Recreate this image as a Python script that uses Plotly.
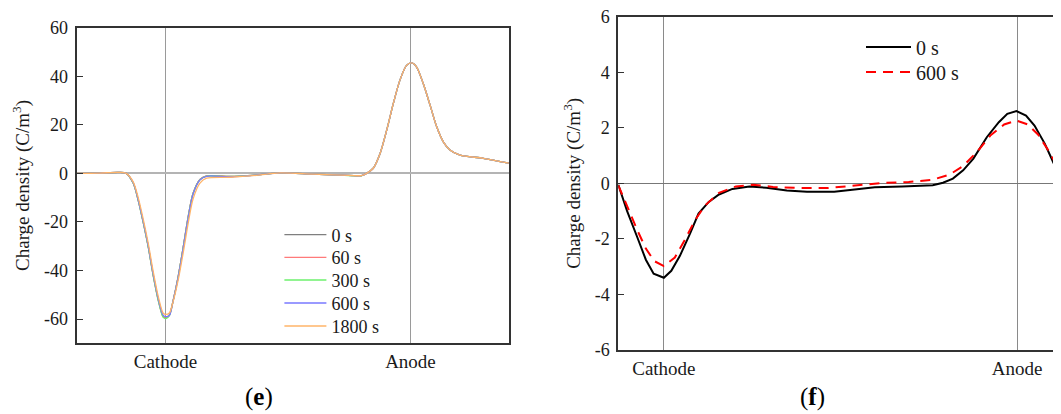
import plotly.graph_objects as go

# ---------------- data ----------------
# Panel (e): position (cathode = 0, anode = 100), charge density C/m^3
pos_e = [-36.2, -27, -19, -16, -13.1, -11.1, -9.1, -7.0, -5.0, -2.9, -0.9, 0.2, 1.6, 3.2, 5.2,
         7.3, 9.3, 11.3, 14.1, 16.8, 26.3, 37.2, 46.7, 60, 72, 80, 82.1, 84.8, 87.6, 90.3,
         93.0, 95.7, 98.4, 100.5, 102.5, 105.2, 108.0, 110.7, 113.4, 116.1, 120.2, 129.7, 140.2]
rho_0s = [0, 0.1, 0.4, 0.0, -4.1, -11.0, -19.9, -30.2, -41.8, -52.1, -58.9, -59.4, -58.3, -52.1, -42.5,
          -30.2, -17.8, -8.2, -2.5, -1.0, -1.3, -0.7, 0.2, -0.3, -0.7, -0.9, 0.0, 2.1, 8.2, 17.8,
          28.8, 38.4, 44.5, 45.5, 43.8, 37.0, 28.1, 19.2, 13.0, 9.6, 7.5, 6.2, 4.2]
rho_60s = [0, 0.1, 0.4, 0.0, -4.1, -11.1, -20.0, -30.3, -41.9, -52.3, -59.1, -59.6, -58.4, -52.2, -42.5,
           -30.2, -17.8, -8.2, -2.5, -1.0, -1.3, -0.7, 0.2, -0.3, -0.7, -0.9, 0.0, 2.1, 8.2, 17.8,
           28.8, 38.4, 44.5, 45.5, 43.8, 37.0, 28.1, 19.2, 13.0, 9.6, 7.5, 6.2, 4.2]
rho_300s = [0, 0.1, 0.4, 0.0, -4.2, -11.2, -20.1, -30.5, -42.1, -52.5, -59.3, -59.8, -58.6, -52.3, -42.6,
            -30.3, -17.9, -8.3, -2.6, -1.1, -1.3, -0.7, 0.2, -0.3, -0.7, -1.0, 0.0, 2.1, 8.2, 17.8,
            28.8, 38.4, 44.5, 45.5, 43.8, 37.0, 28.1, 19.2, 13.0, 9.6, 7.5, 6.2, 4.2]
rho_600s = [0, 0.1, 0.4, 0.0, -4.0, -10.9, -19.7, -30.0, -41.5, -51.8, -58.5, -59.0, -58.6, -52.3, -42.8,
            -30.6, -18.2, -8.5, -2.7, -1.2, -1.4, -0.7, 0.2, -0.3, -0.7, -0.9, 0.0, 2.1, 8.2, 17.8,
            28.8, 38.4, 44.5, 45.5, 43.8, 37.0, 28.1, 19.2, 13.0, 9.6, 7.5, 6.2, 4.2]
rho_1800s = [0, 0.1, 0.4, 0.0, -3.6, -10.0, -18.6, -28.8, -40.3, -50.8, -57.6, -58.1, -57.5, -52.6, -44.0,
             -32.5, -20.5, -10.5, -4.0, -2.0, -1.6, -0.8, 0.2, -0.3, -0.7, -0.9, 0.0, 2.1, 8.2, 17.8,
             28.8, 38.4, 44.5, 45.5, 43.8, 37.0, 28.1, 19.2, 13.0, 9.6, 7.5, 6.2, 4.2]
names_e = ["0 s", "60 s", "300 s", "600 s", "1800 s"]
colors_e = ["#7f7f7f", "#ff7a7a", "#6cf06c", "#7878ff", "#ffb469"]

# Panel (f)
pos_f_0 = [-12.9, -10.4, -7.5, -5.1, -2.9, 0, 2.1, 4.5, 7.4, 9.8, 12.7, 15.6, 19.4, 24.2, 29.0,
           34.8, 40.5, 48.2, 54.0, 59.7, 67.4, 76.1, 79.0, 81.8, 84.7, 87.6, 91.4, 94.8, 97.2,
           99.8, 102.5, 104.9, 107.8, 110.2, 112.1, 114.0]
rho_f_0 = [-0.05, -1.0, -1.95, -2.75, -3.25, -3.40, -3.15, -2.62, -1.81, -1.09, -0.67, -0.40, -0.20,
           -0.11, -0.16, -0.26, -0.30, -0.30, -0.22, -0.14, -0.11, -0.07, 0.02, 0.17, 0.47, 0.89,
           1.66, 2.20, 2.50, 2.60, 2.44, 2.08, 1.43, 0.77, 0.23, -0.30]
pos_f_600 = [-12.9, -10.4, -7.5, -5.1, -2.7, 0, 3.1, 6.0, 8.8, 11.7, 15.6, 20.4, 25.2, 30.9, 38.6,
             46.3, 54.0, 61.6, 69.3, 76.1, 80.9, 84.7, 88.6, 92.4, 96.3, 99.8, 103.0, 105.9,
             108.8, 111.6, 114.0]
rho_f_600 = [-0.07, -0.85, -1.69, -2.35, -2.80, -2.98, -2.67, -2.02, -1.33, -0.79, -0.34, -0.11,
             -0.05, -0.13, -0.17, -0.17, -0.07, 0.01, 0.05, 0.13, 0.32, 0.62, 1.13, 1.72, 2.12,
             2.26, 2.12, 1.76, 1.19, 0.53, 0.0]
names_f = ["0 s", "600 s"]

electrode_pos = [0, 100]
electrode_names = ["Cathode", "Anode"]
yticks_e = [-60, -40, -20, 0, 20, 40, 60]
yticks_f = [-6, -4, -2, 0, 2, 4, 6]

# ---------------- layout helpers (page has an 8 px body margin) ----------------
FONT = "Liberation Serif"
OFF = 8
W, H = 1061 - OFF, 414 - OFF


def px(xs):
    return (xs - OFF) / W


def py(ys):
    return 1 - (ys - OFF) / H


fig = go.Figure()
legend_rows_e = [235, 257.7, 280.3, 303.3, 326.3]
legend_rows_f = [47, 72]
legend_defs = {}
li = 1
for name, col, ys, row in zip(names_e, colors_e, [rho_0s, rho_60s, rho_300s, rho_600s, rho_1800s],
                              legend_rows_e):
    lg = "legend" if li == 1 else f"legend{li}"
    fig.add_trace(go.Scatter(x=pos_e, y=ys, mode="lines", name=name,
                             line=dict(color=col, width=1.3, shape="spline", smoothing=0.8),
                             xaxis="x", yaxis="y", legend=lg))
    legend_defs[lg] = dict(x=px(279.4), y=py(row), xanchor="left", yanchor="middle",
                           bgcolor="rgba(0,0,0,0)", font=dict(size=18), itemwidth=42)
    li += 1

styles_f = [dict(color="black", width=2), dict(color="#ff0000", width=2, dash="10px,7px")]
for name, xs, ys, st, row in zip(names_f, [pos_f_0, pos_f_600], [rho_f_0, rho_f_600], styles_f,
                                 legend_rows_f):
    lg = f"legend{li}"
    fig.add_trace(go.Scatter(x=xs, y=ys, mode="lines", name=name, line=st,
                             xaxis="x2", yaxis="y2", legend=lg))
    legend_defs[lg] = dict(x=px(861), y=py(row), xanchor="left", yanchor="middle",
                           bgcolor="rgba(0,0,0,0)", font=dict(size=20), itemwidth=45)
    li += 1

axis_common = dict(linecolor="#333333", linewidth=2, showline=True, automargin=False)
title_txt = "Charge density (C/m<sup>3</sup>)"

fig.update_layout(
    width=W, height=H, margin=dict(l=0, r=0, t=0, b=0, autoexpand=False),
    paper_bgcolor="white", plot_bgcolor="white",
    font=dict(family=FONT, color="#1a1a1a", size=18),
    xaxis=dict(domain=[px(76.7), px(509)], range=[-36.2, 140.2], tickmode="array",
               tickvals=electrode_pos, ticktext=electrode_names, ticks="",
               showgrid=True, gridcolor="#9a9a9a", gridwidth=1.3, zeroline=False,
               mirror=True, tickfont=dict(size=19), anchor="y", **axis_common),
    yaxis=dict(domain=[py(343.3), py(27.7)], range=[-70, 60], tickmode="array",
               tickvals=yticks_e, ticktext=[str(v) for v in yticks_e],
               ticks="inside", ticklen=6, tickcolor="#333333", showgrid=False,
               zeroline=True, zerolinecolor="#b4b4b4", zerolinewidth=1.8,
               mirror=True, tickfont=dict(size=18), ticklabelstandoff=3,
               ticklabeloverflow="allow",
               title=dict(text=title_txt, font=dict(size=19), standoff=9), anchor="x",
               **axis_common),
    xaxis2=dict(domain=[px(618.3), 1.0], range=[-12.9, 112.4], tickmode="array",
                tickvals=electrode_pos, ticktext=electrode_names, ticks="",
                showgrid=True, gridcolor="#8a8a8a", gridwidth=1, zeroline=False,
                mirror=True, tickfont=dict(size=19), anchor="y2", **axis_common),
    yaxis2=dict(domain=[py(350), py(16.7)], range=[-6, 6], tickmode="array",
                tickvals=yticks_f, ticktext=[str(v) for v in yticks_f],
                ticks="inside", ticklen=6, tickcolor="#333333", showgrid=False,
                zeroline=True, zerolinecolor="#777777", zerolinewidth=1,
                mirror=False, tickfont=dict(size=18), ticklabelstandoff=3,
                ticklabeloverflow="allow",
                title=dict(text=title_txt, font=dict(size=19), standoff=9), anchor="x2",
                **axis_common),
    showlegend=True,
    annotations=[
        dict(text="(<b>e</b>)", x=px(259), y=py(397), xref="paper", yref="paper",
             showarrow=False, font=dict(size=25, family=FONT, color="black"),
             xanchor="center", yanchor="middle"),
        dict(text="(<b>f</b>)", x=px(812), y=py(397), xref="paper", yref="paper",
             showarrow=False, font=dict(size=25, family=FONT, color="black"),
             xanchor="center", yanchor="middle"),
    ],
    **legend_defs,
)

fig.write_html("out.html")
